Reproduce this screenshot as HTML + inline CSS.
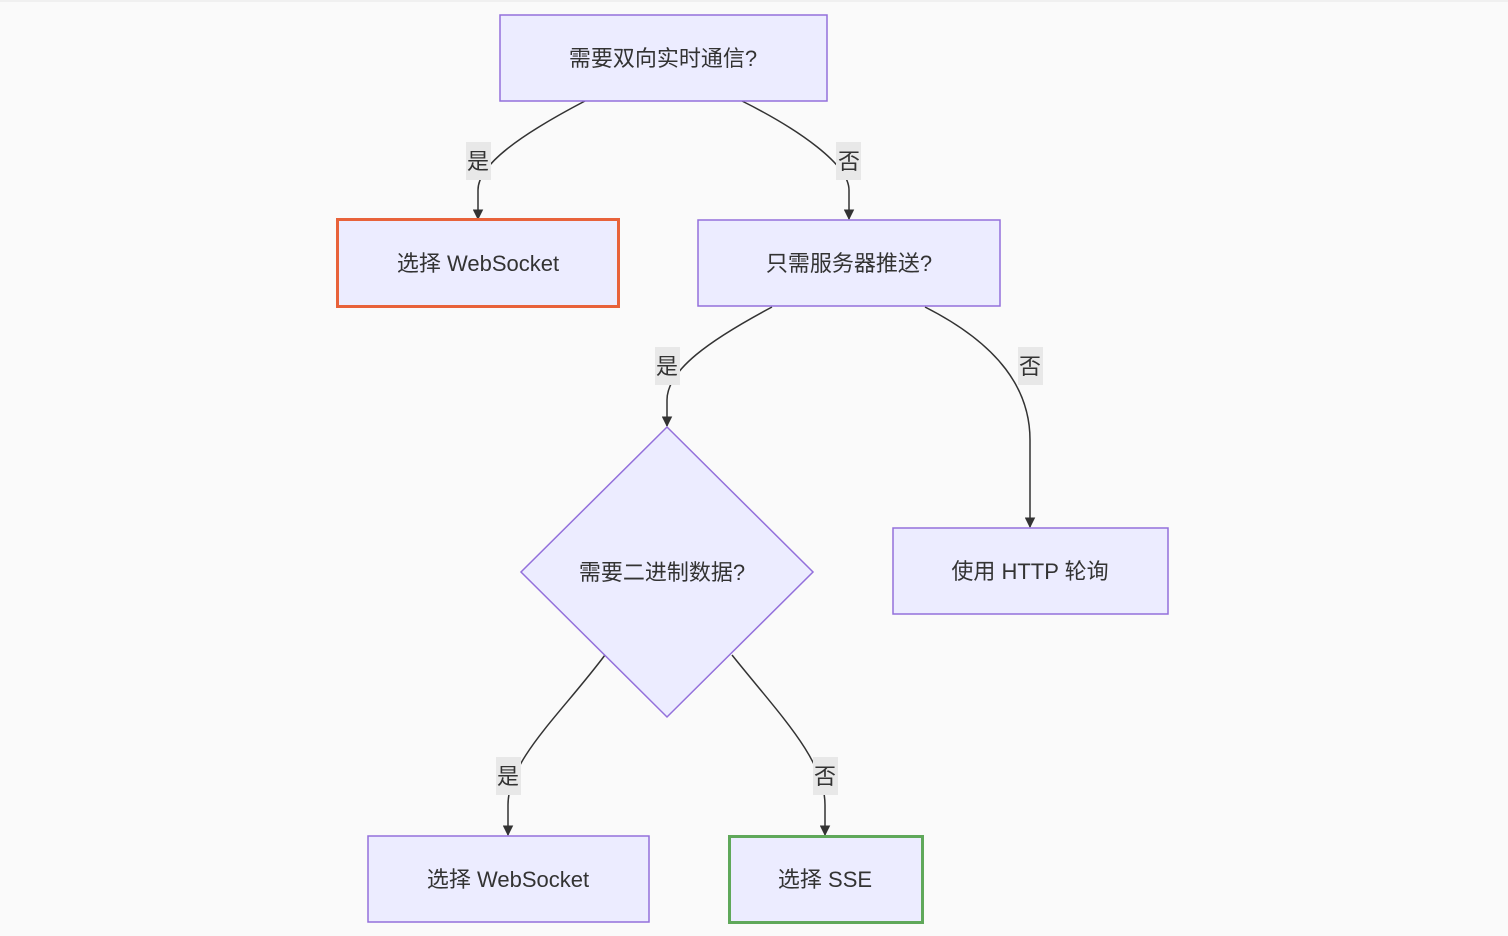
<!DOCTYPE html>
<html><head><meta charset="utf-8"><style>
html,body{margin:0;padding:0;background:#fafafa;}
svg{display:block}
text{font-family:"Liberation Sans","Noto Sans CJK SC",sans-serif;font-size:22px;fill:#333;}
</style></head><body>
<svg width="1508" height="936" viewBox="0 0 1508 936" xmlns="http://www.w3.org/2000/svg">
<defs><marker id="ar" viewBox="0 0 10 10" refX="9" refY="5" markerWidth="7" markerHeight="7" orient="auto"><path d="M0,0L10,5L0,10z" fill="#333"/></marker></defs>
<rect x="0" y="0" width="1508" height="936" fill="#fafafa"/>
<rect x="0" y="0" width="1508" height="2" fill="#f0f0f0"/>
<g fill="none" stroke="#333" stroke-width="1.5" marker-end="url(#ar)">
<path d="M585,101 C520,135 478,165 478,190 L478,219"/>
<path d="M742,101 C800,130 849,165 849,190 L849,219"/>
<path d="M772,307 C710,340 667,370 667,400 L667,426"/>
<path d="M925,307 C1000,345 1030,390 1030,440 L1030,527"/>
<path d="M605,655 C560,715 508,760 508,805 L508,835"/>
<path d="M732,655 C780,715 825,760 825,805 L825,835"/>
</g>
<g fill="#e8e8e8">
<rect x="466" y="142" width="25" height="38"/>
<rect x="836" y="142" width="25" height="38"/>
<rect x="655" y="347" width="25" height="38"/>
<rect x="1018" y="347" width="25" height="38"/>
<rect x="496" y="757" width="25" height="38"/>
<rect x="813" y="757" width="25" height="38"/>
</g>
<g text-anchor="middle">
<text x="478" y="169">是</text><text x="849" y="169">否</text>
<text x="667" y="374">是</text><text x="1030" y="374">否</text>
<text x="508" y="784">是</text><text x="825" y="784">否</text>
</g>
<g fill="#ececff" stroke="#9370db" stroke-width="1.5">
<rect x="500" y="15" width="327" height="86"/>
<rect x="698" y="220" width="302" height="86"/>
<polygon points="667,427 813,572 667,717 521,572"/>
<rect x="893" y="528" width="275" height="86"/>
<rect x="368" y="836" width="281" height="86"/>
</g>
<rect x="337.5" y="219.5" width="281" height="87" fill="#ececff" stroke="#e8623a" stroke-width="3"/>
<rect x="729.5" y="836.5" width="193" height="86" fill="#ececff" stroke="#5fa85a" stroke-width="3"/>
<g text-anchor="middle">
<text x="663" y="66">需要双向实时通信?</text>
<text x="478" y="271">选择 WebSocket</text>
<text x="849" y="271">只需服务器推送?</text>
<text x="662" y="580">需要二进制数据?</text>
<text x="1030" y="579">使用 HTTP 轮询</text>
<text x="508" y="887">选择 WebSocket</text>
<text x="825" y="887">选择 SSE</text>
</g>
</svg>
</body></html>
